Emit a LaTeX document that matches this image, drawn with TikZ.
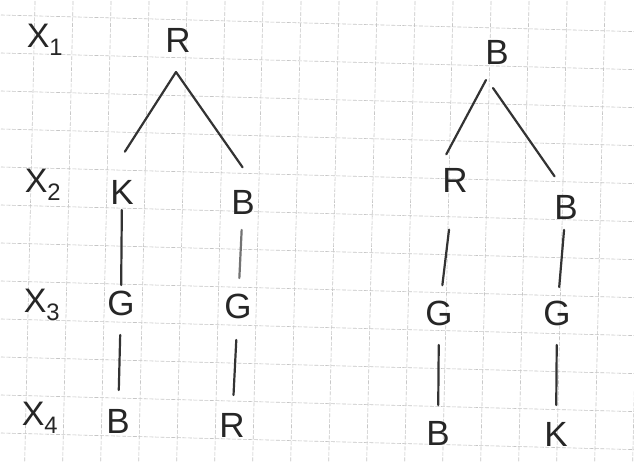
\documentclass[tikz,border=0pt]{standalone}
\usepackage{fontspec}
\setmainfont{Liberation Sans}
\begin{document}
\begin{tikzpicture}[x=1pt,y=-1pt,
  letter/.style={font=\fontsize{35}{35}\selectfont, text=black!85, inner sep=2pt},
  lbl/.style={font=\fontsize{34}{34}\selectfont, text=black!85, inner sep=2pt},
  branch/.style={line width=2.2pt, black!80, line cap=round},
  gridline/.style={gray!45, line width=0.6pt, dash pattern=on 4pt off 1.5pt}]
\useasboundingbox (0,0) rectangle (634,461);
\fill[white] (0,0) rectangle (634,461);
% grid paper
\foreach \k in {0,...,12} {
  \draw[gridline] (-10,{15+38*\k-0.3}) -- (650,{15+38*\k+17});
}
\foreach \k in {-1,...,17} {
  \draw[gridline] ({35+38*\k+0.3},-10) -- ({35+38*\k-10.5},470);
}
% row labels
\node[lbl] (x1) at (45,40) {X\textsubscript{1}};
\node[lbl] (x2) at (43,185) {X\textsubscript{2}};
\node[lbl] (x3) at (42,305) {X\textsubscript{3}};
\node[lbl] (x4) at (40,418) {X\textsubscript{4}};
% tree 1
\node[letter] (r1) at (178,40) {R};
\node[letter] (k1) at (122,192) {K};
\node[letter] (b1) at (243,202) {B};
\node[letter] (g1) at (121,303) {G};
\node[letter] (g2) at (238,306) {G};
\node[letter] (b2) at (118,421) {B};
\node[letter] (r2) at (232,425) {R};
\coordinate (a1) at (176,72);
\draw[branch] (a1) -- (k1.north west) [shorten >=31pt];
\draw[branch] (a1) -- (b1.north east) [shorten >=25pt];
\draw[branch] (k1.center) -- (g1.center) [shorten <=18pt, shorten >=18pt];
\draw[branch] (g1.center) -- (b2.center) [shorten <=32pt, shorten >=31pt];
\draw[branch, black!55] (b1.center) -- (g2.center) [shorten <=28pt, shorten >=28pt];
\draw[branch] (g2.center) -- (r2.center) [shorten <=34pt, shorten >=30pt];
% tree 2
\node[letter] (b3) at (497,52) {B};
\node[letter] (r3) at (455,180) {R};
\node[letter] (b4) at (566,207) {B};
\node[letter] (g3) at (439,313) {G};
\node[letter] (g4) at (557,313) {G};
\node[letter] (b5) at (438,433) {B};
\node[letter] (k2) at (556,434) {K};
\coordinate (a2) at (486,80);
\coordinate (a3) at (493,88);
\draw[branch] (a2) -- (r3.north west) [shorten >=13pt];
\draw[branch] (a3) -- (b4.north) [shorten >=20pt];
\draw[branch] (r3.center) -- (g3.center) [shorten <=50pt, shorten >=28pt];
\draw[branch] (g3.center) -- (b5.center) [shorten <=32pt, shorten >=28pt];
\draw[branch] (b4.center) -- (g4.center) [shorten <=23pt, shorten >=26pt];
\draw[branch] (g4.center) -- (k2.center) [shorten <=32pt, shorten >=29pt];
\end{tikzpicture}
\end{document}
